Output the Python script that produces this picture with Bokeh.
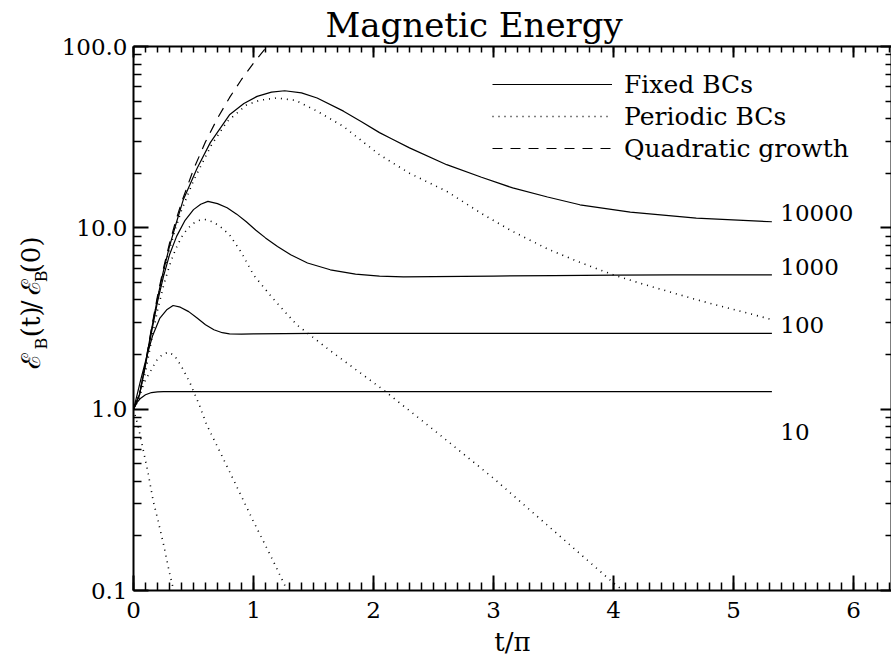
import math
import numpy as np
from bokeh.plotting import figure
from bokeh.layouts import row
from bokeh.models import (FixedTicker, LinearAxis, LogAxis, Legend, LegendItem,
                          Range1d, ColumnDataSource)
from bokeh.core.properties import value
from bokeh.embed import file_html
from bokeh.resources import INLINE

FONT = "DejaVu Serif"

# ---------------- data ----------------
# Fixed boundary conditions (solid lines), labelled by Reynolds number
fixed10_t = [0, 0.03, 0.06, 0.1, 0.15, 0.2, 0.25, 0.3, 1.0, 2.0, 3.0, 4.0, 5.0, 5.32]
fixed10_e = [1.0, 1.09, 1.15, 1.2, 1.235, 1.245, 1.25, 1.25, 1.25, 1.25, 1.25, 1.25, 1.25, 1.25]

fixed100_t = [0, 0.03, 0.06, 0.11, 0.16, 0.22, 0.28, 0.33, 0.39, 0.46, 0.53, 0.6, 0.67,
              0.74, 0.8, 0.9, 1.0, 1.5, 2.0, 3.0, 4.0, 5.0, 5.32]
fixed100_e = [1.0, 1.2, 1.45, 1.95, 2.55, 3.18, 3.55, 3.73, 3.65, 3.45, 3.18, 2.92, 2.74,
              2.64, 2.6, 2.59, 2.6, 2.62, 2.62, 2.62, 2.62, 2.62, 2.62]

fixed1000_t = [0, 0.05, 0.1, 0.15, 0.2, 0.25, 0.3, 0.36, 0.43, 0.5, 0.56, 0.62, 0.7, 0.78,
               0.86, 0.94, 1.02, 1.1, 1.2, 1.31, 1.45, 1.64, 1.85, 2.05, 2.25, 2.5, 3.0,
               3.5, 4.0, 4.5, 5.0, 5.32]
fixed1000_e = [1.0, 1.2, 1.75, 2.65, 3.9, 5.4, 7.1, 9.0, 11.0, 12.6, 13.5, 14.0, 13.6, 12.9,
               11.9, 10.8, 9.7, 8.8, 7.9, 7.1, 6.4, 5.87, 5.55, 5.42, 5.36, 5.38, 5.42,
               5.45, 5.48, 5.5, 5.5, 5.5]

fixed10000_t = [0, 0.05, 0.1, 0.15, 0.2, 0.25, 0.3, 0.35, 0.415, 0.53, 0.64, 0.8, 0.92,
                1.03, 1.15, 1.26, 1.4, 1.53, 1.75, 1.9, 2.05, 2.15, 2.3, 2.61, 2.9, 3.16,
                3.45, 3.72, 4.14, 4.69, 5.32]
fixed10000_e = [1.0, 1.2, 1.8, 2.75, 4.1, 5.8, 7.9, 10.3, 14.3, 21.3, 29.5, 42.0, 48.5,
                53.1, 56.0, 57.0, 55.5, 52.0, 44.0, 38.5, 33.5, 31.0, 27.6, 22.3, 19.0,
                16.6, 14.8, 13.4, 12.2, 11.3, 10.8]

# Periodic boundary conditions (dotted lines)
periodic10_t = [0, 0.04, 0.08, 0.12, 0.165, 0.2, 0.25, 0.3, 0.335]
periodic10_e = [1.0, 0.8, 0.6, 0.45, 0.31, 0.25, 0.18, 0.125, 0.1]

periodic100_t = [0, 0.05, 0.1, 0.14, 0.19, 0.24, 0.29, 0.34, 0.4, 0.47, 0.55, 0.61, 0.7,
                 0.8, 0.9, 1.0, 1.1, 1.165, 1.26, 1.28]
periodic100_e = [1.0, 1.2, 1.45, 1.61, 1.85, 2.0, 2.06, 1.98, 1.72, 1.4, 1.05, 0.82, 0.62,
                 0.453, 0.33, 0.24, 0.177, 0.145, 0.107, 0.1]

periodic1000_t = [0, 0.05, 0.1, 0.15, 0.2, 0.25, 0.3, 0.35, 0.4, 0.45, 0.5, 0.55, 0.6, 0.66,
                  0.72, 0.8, 0.9, 1.0, 1.16, 1.36, 1.64, 2.08, 2.5, 3.0, 3.5, 4.0, 4.08]
periodic1000_e = [1.0, 1.15, 1.6, 2.4, 3.5, 4.8, 6.2, 7.6, 8.9, 9.9, 10.6, 11.0, 11.1, 10.8,
                  10.2, 9.16, 7.3, 5.5, 4.09, 2.92, 2.1, 1.28, 0.77, 0.416, 0.214, 0.11, 0.1]

periodic10000_t = [0, 0.05, 0.1, 0.15, 0.2, 0.25, 0.3, 0.35, 0.4, 0.5, 0.65, 0.78, 0.94,
                   1.05, 1.19, 1.35, 1.53, 1.75, 2.05, 2.3, 2.61, 2.9, 3.16, 3.45, 3.72, 4.0,
                   4.22, 4.7, 5.32]
periodic10000_e = [1.0, 1.2, 1.75, 2.7, 4.0, 5.6, 7.6, 9.9, 12.5, 18.2, 28.7, 38.6, 47.5,
                   50.5, 52.0, 50.5, 44.0, 36.2, 25.3, 20.0, 15.9, 12.0, 9.55, 7.65, 6.45,
                   5.5, 4.95, 4.0, 3.12]

# Quadratic growth (dashed)
quad_t = [0, 0.05, 0.1, 0.15, 0.2, 0.25, 0.3, 0.35, 0.4, 0.5, 0.6, 0.7, 0.8, 0.9, 1.0,
          1.1, 1.12]
quad_e = [1.0, 1.2, 1.8, 2.8, 4.2, 6.0, 8.2, 10.8, 13.8, 21.0, 29.8, 40.2, 52.2, 65.8,
          81.0, 97.8, 101.0]

# Curve labels (Reynolds numbers) placed at the right end
curve_labels = ["10000", "1000", "100", "10"]
curve_label_x = [5.39, 5.39, 5.39, 5.39]
curve_label_y = [12.0, 6.05, 2.9, 0.753]

# Axes ticks
x_ticks = [0, 1, 2, 3, 4, 5, 6]
x_tick_labels = ["0", "1", "2", "3", "4", "5", "6"]
y_ticks = [0.1, 1.0, 10.0, 100.0]
y_tick_labels = ["0.1", "1.0", "10.0", "100.0"]

legend_labels = ["Fixed BCs", "Periodic BCs", "Quadratic growth"]
title_text = "Magnetic Energy"
x_label_text = "t/\u03c0"

# y-axis label  E_B(t)/E_B(0): pieces, with subscripts B set smaller and lower
ylab_text = ["\u2130", "B", "(t)", "/", "\u2130", "B", "(0)"]
ylab_size = ["26px", "16px", "26px", "26px", "26px", "16px", "26px"]
ylab_x_px = [30, 41, 30, 30, 30, 41, 30]          # page pixels
ylab_y_px = [394, 370, 355, 321, 304, 288, 277]   # page pixels (start of each piece)

# ---------------- geometry ----------------
LAB_W = 56                      # width of the y-label strip
FRAME_W, FRAME_H = 758, 544
X_END = FRAME_W / 120.0         # 120 px per unit of t/pi
BORDER_TOP, BORDER_BOTTOM = 44, 74
TOTAL_H = BORDER_TOP + FRAME_H + BORDER_BOTTOM

p = figure(frame_width=FRAME_W, frame_height=FRAME_H,
           x_range=Range1d(0, X_END), y_range=Range1d(0.1, 100),
           y_axis_type="log", output_backend="svg", toolbar_location=None,
           min_border_left=133 - LAB_W, min_border_right=0,
           min_border_top=BORDER_TOP, min_border_bottom=BORDER_BOTTOM,
           outline_line_color=None,
           background_fill_color="white", border_fill_color="white")
p.xgrid.visible = False
p.ygrid.visible = False

p.title.text = title_text
p.title.text_font = FONT
p.title.text_font_size = "34px"
p.title.text_font_style = "normal"
p.title.text_color = "black"
p.title.align = "left"
p.title.offset = 192
p.title.standoff = 4

x_minor = [round(v, 1) for v in np.arange(0, 6.35, 0.1)]
y_minor = [k * 10.0 ** e for e in (-1, 0, 1) for k in range(2, 10)]
xticker = FixedTicker(ticks=x_ticks, minor_ticks=x_minor)
yticker = FixedTicker(ticks=y_ticks, minor_ticks=y_minor)


def style_axis(ax, ticker, major_in, minor_in):
    ax.ticker = ticker
    ax.axis_line_width = 2
    ax.axis_line_color = "black"
    ax.major_tick_in = major_in
    ax.major_tick_out = 0
    ax.minor_tick_in = minor_in
    ax.minor_tick_out = 0
    ax.major_tick_line_width = 2
    ax.minor_tick_line_width = 1.5
    ax.major_tick_line_color = "black"
    ax.minor_tick_line_color = "black"
    ax.major_label_text_font = FONT
    ax.major_label_text_font_size = "23px"
    ax.major_label_text_color = "black"


xa = p.xaxis[0]
style_axis(xa, xticker, 15, 8)
xa.major_label_overrides = dict(zip(x_ticks, x_tick_labels))
xa.major_label_standoff = 11
xa.axis_label = x_label_text
xa.axis_label_text_font = FONT
xa.axis_label_text_font_size = "26px"
xa.axis_label_text_font_style = "normal"
xa.axis_label_text_color = "black"
xa.axis_label_standoff = 6

ya = p.yaxis[0]
style_axis(ya, yticker, 15, 8)
ya.major_label_overrides = dict(zip(y_ticks, y_tick_labels))
ya.major_label_standoff = 6

top = LinearAxis()
style_axis(top, xticker, 11, 6)
top.major_label_overrides = {t: "" for t in x_ticks}
top.major_label_text_font_size = "1px"
top.major_label_standoff = 0
p.add_layout(top, "above")
right = LogAxis()
style_axis(right, yticker, 11, 6)
right.major_label_overrides = {t: "" for t in y_ticks}
right.major_label_text_font_size = "1px"
right.major_label_standoff = 0
p.add_layout(right, "right")

# ---------------- curves ----------------
solid = dict(line_color="black", line_width=1.2)
dotted = dict(line_color="black", line_width=1.6, line_dash="1 5")
dashed = dict(line_color="black", line_width=1.2, line_dash="10 8")

r_fixed = None
for t, e in [(fixed10_t, fixed10_e), (fixed100_t, fixed100_e),
             (fixed1000_t, fixed1000_e), (fixed10000_t, fixed10000_e)]:
    r_fixed = p.line(t, e, **solid)
r_per = None
for t, e in [(periodic10_t, periodic10_e), (periodic100_t, periodic100_e),
             (periodic1000_t, periodic1000_e), (periodic10000_t, periodic10000_e)]:
    r_per = p.line(t, e, **dotted)
r_quad = p.line(quad_t, quad_e, **dashed)

p.text(x=curve_label_x, y=curve_label_y, text=curve_labels,
       text_font=value(FONT), text_font_size="23px", text_color="black",
       text_align="left", text_baseline="middle")

# ---------------- legend ----------------
legend = Legend(items=[LegendItem(label=legend_labels[0], renderers=[r_fixed]),
                       LegendItem(label=legend_labels[1], renderers=[r_per]),
                       LegendItem(label=legend_labels[2], renderers=[r_quad])],
                location=(359, 426), orientation="vertical", padding=0, margin=0,
                spacing=0, glyph_width=120, glyph_height=32, label_height=32,
                label_standoff=12, label_text_font=FONT, label_text_font_size="25px",
                label_text_baseline="bottom", label_text_color="black",
                background_fill_alpha=0, border_line_alpha=0)
p.add_layout(legend)

# ---------------- y-label strip (left) ----------------
q = figure(width=LAB_W, height=TOTAL_H, x_range=Range1d(0, LAB_W),
           y_range=Range1d(0, TOTAL_H), output_backend="svg",
           toolbar_location=None, x_axis_type=None, y_axis_type=None,
           min_border=0, min_border_left=0, min_border_right=0,
           min_border_top=0, min_border_bottom=0, outline_line_color=None,
           background_fill_color="white", border_fill_color="white")
q.xgrid.visible = False
q.ygrid.visible = False
src = ColumnDataSource(dict(x=ylab_x_px, y=[TOTAL_H - v for v in ylab_y_px],
                            text=ylab_text, size=ylab_size))
q.text(x="x", y="y", text="text", source=src, text_font=value(FONT),
       text_font_size="size", text_color="black", angle=math.pi / 2,
       text_align="left", text_baseline="middle")

layout = row(q, p, spacing=0)
open("out.html", "w").write(file_html(layout, INLINE))
